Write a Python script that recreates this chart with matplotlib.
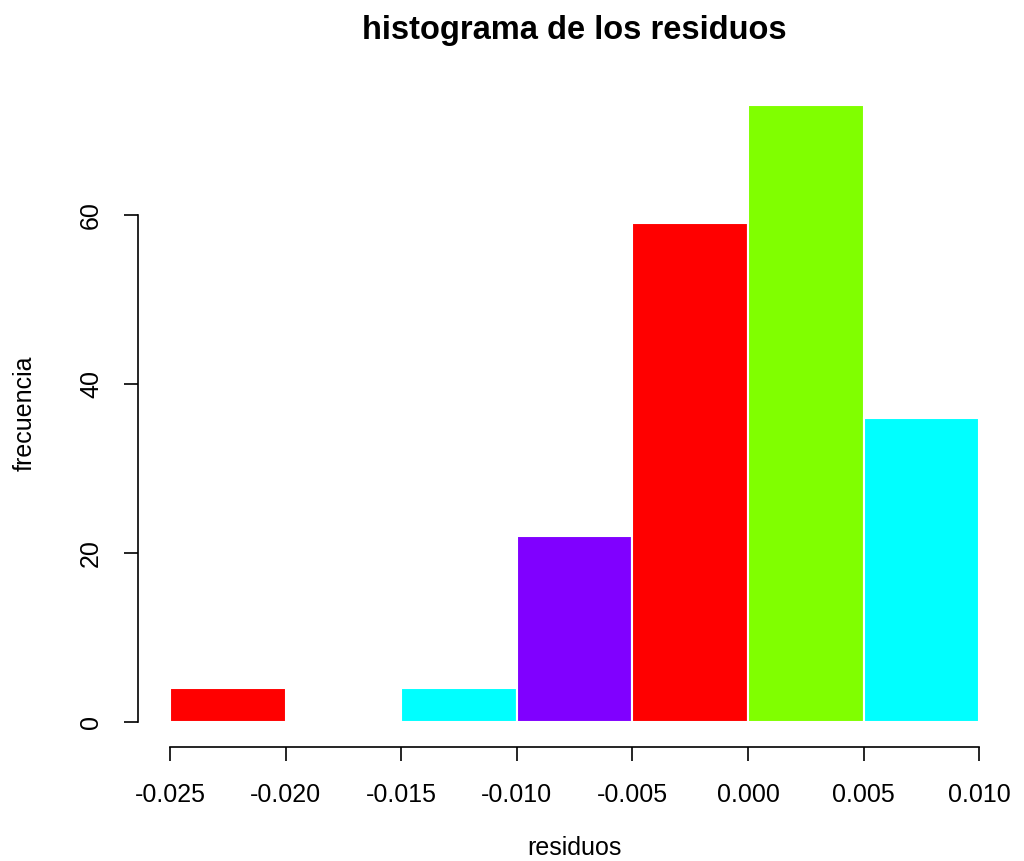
import numpy as np
import matplotlib
matplotlib.use("Agg")
import matplotlib.pyplot as plt

plt.rcParams['font.family'] = ['Liberation Sans', 'DejaVu Sans']

# === Datos del histograma ===
bordes = [-0.025, -0.020, -0.015, -0.010, -0.005, 0.000, 0.005, 0.010]
frecuencias = [4, 0, 4, 22, 59, 73, 36]
colores = ["#FF0000", "#80FF00", "#00FFFF", "#8000FF", "#FF0000", "#80FF00", "#00FFFF"]
xticks = [-0.025, -0.020, -0.015, -0.010, -0.005, 0.000, 0.005, 0.010]
xtick_labels = ["-0.025", "-0.020", "-0.015", "-0.010", "-0.005", "0.000", "0.005", "0.010"]
yticks = [0, 20, 40, 60]

fig = plt.figure(figsize=(10.24, 8.61), dpi=100)
ax = fig.add_axes([0.1344, 0.1328, 0.8536, 0.7737])

izq = np.array(bordes[:-1])
ancho = np.diff(bordes)
ax.bar(izq, frecuencias, width=ancho, align="edge", color=colores,
       edgecolor="white", linewidth=1.5)

# Limites estilo R (4% extra)
rx = bordes[-1] - bordes[0]
ax.set_xlim(bordes[0] - 0.04 * rx, bordes[-1] + 0.04 * rx)
ymax = max(frecuencias)
ax.set_ylim(-0.04 * ymax, ymax * 1.04)

for s in ["top", "right"]:
    ax.spines[s].set_visible(False)
ax.spines["bottom"].set_bounds(bordes[0], bordes[-1])
ax.spines["left"].set_bounds(yticks[0], yticks[-1])
for s in ["bottom", "left"]:
    ax.spines[s].set_linewidth(1.2)

ax.set_xticks(xticks)
ax.set_xticklabels(xtick_labels)
ax.set_yticks(yticks)
ax.set_yticklabels([str(v) for v in yticks], rotation=90, va="center")
ax.tick_params(axis="both", length=10, width=1.2, labelsize=18, colors="black")
ax.tick_params(axis="x", pad=16)
ax.tick_params(axis="y", pad=15)

ax.set_title("histograma de los residuos", fontsize=23.5, fontweight="bold", pad=0, y=1.063)
ax.set_xlabel("residuos", fontsize=18, va="center")
ax.set_ylabel("frecuencia", fontsize=18, va="center")
ax.xaxis.set_label_coords(0.5, -0.1517)
ax.yaxis.set_label_coords(-0.1288, 0.5)

fig.savefig("out.png", dpi=100)
